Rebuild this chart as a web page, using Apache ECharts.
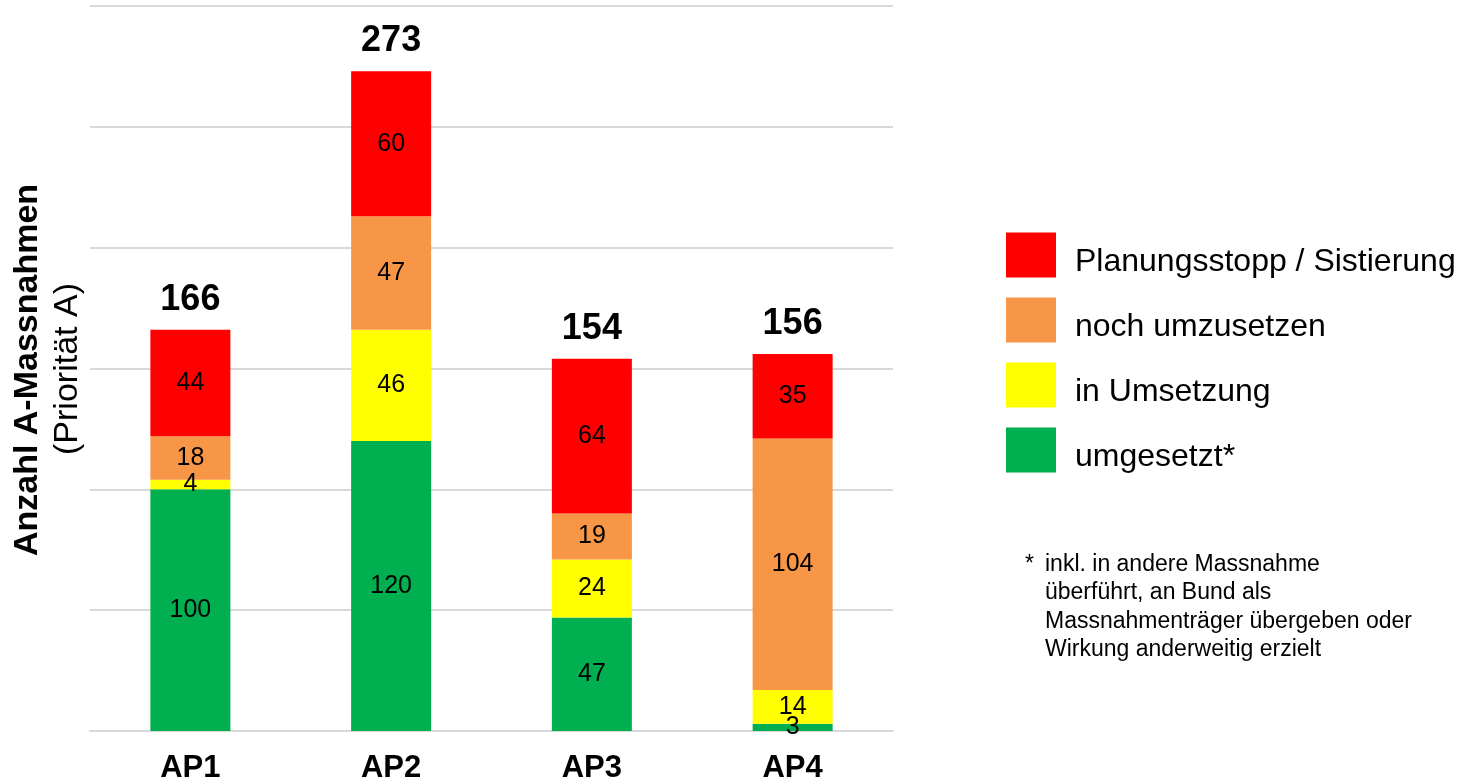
<!DOCTYPE html>
<html>
<head>
<meta charset="utf-8">
<script src="https://cdn.jsdelivr.net/npm/echarts@6/dist/echarts.min.js"></script>
<style>
html,body{margin:0;padding:0;background:#fff;}
#chart{width:1467px;height:784px;}
</style>
</head>
<body>
<div id="chart"></div>
<script>
const categories = ['AP1', 'AP2', 'AP3', 'AP4'];
const umgesetzt = [100, 120, 47, 3];
const inUmsetzung = [4, 46, 24, 14];
const nochUmzusetzen = [18, 47, 19, 104];
const planungsstopp = [44, 60, 64, 35];
const seriesNames = ['umgesetzt*', 'in Umsetzung', 'noch umzusetzen', 'Planungsstopp / Sistierung'];
const seriesColors = ['#00B050', '#FFFF00', '#F79646', '#FF0000'];
const yTicks = [0, 50, 100, 150, 200, 250, 300];
const yAxisTitle = 'Anzahl A-Massnahmen';
const yAxisSubtitle = '(Priorität A)';
const footnoteStar = '*';
const footnoteLines = ['inkl. in andere Massnahme', 'überführt, an Bund als', 'Massnahmenträger übergeben oder', 'Wirkung anderweitig erzielt'];

const seriesData = [umgesetzt, inUmsetzung, nochUmzusetzen, planungsstopp];
const totals = categories.map((c, i) => seriesData.reduce((s, arr) => s + arr[i], 0));

const FONT = '"Liberation Sans", Arial, sans-serif';

const chart = echarts.init(document.getElementById('chart'), null, {renderer: 'canvas'});

const series = seriesData.map((arr, k) => ({
  name: seriesNames[k],
  type: 'bar',
  stack: 'total',
  barWidth: 80,
  data: arr,
  itemStyle: {color: seriesColors[k]},
  label: {
    show: true,
    position: 'inside',
    color: '#000',
    fontFamily: FONT,
    fontSize: 25
  },
  emphasis: {disabled: true}
}));

series.push({
  name: 'Total',
  type: 'bar',
  barWidth: 80,
  barGap: '-100%',
  data: totals,
  z: 0,
  itemStyle: {color: 'rgba(0,0,0,0)'},
  label: {
    show: true,
    position: 'top',
    distance: 12,
    color: '#000',
    fontFamily: FONT,
    fontWeight: 'bold',
    fontSize: 36
  },
  emphasis: {disabled: true}
});

const option = {
  backgroundColor: '#fff',
  animation: false,
  grid: {left: 90, right: 574, top: 6, bottom: 52, containLabel: false},
  xAxis: {
    type: 'category',
    data: categories,
    axisLine: {show: true, lineStyle: {color: '#d9d9d9', width: 2}},
    axisTick: {show: false},
    axisLabel: {
      color: '#000',
      fontFamily: FONT,
      fontWeight: 'bold',
      fontSize: 31,
      margin: 22
    }
  },
  yAxis: {
    type: 'value',
    min: yTicks[0],
    max: yTicks[yTicks.length - 1],
    interval: yTicks[1] - yTicks[0],
    axisLine: {show: false},
    axisTick: {show: false},
    axisLabel: {show: false},
    splitLine: {show: true, lineStyle: {color: '#d9d9d9', width: 2}}
  },
  legend: {
    orient: 'vertical',
    left: 1006,
    top: 232,
    padding: 0,
    itemWidth: 50,
    itemHeight: 45,
    itemGap: 19,
    icon: 'rect',
    data: seriesNames.slice().reverse(),
    selectedMode: false,
    formatter: '{t|{name}}',
    textStyle: {
      color: '#000',
      fontFamily: FONT,
      fontSize: 32,
      rich: {
        t: {
          color: '#000',
          fontFamily: FONT,
          fontSize: 32,
          lineHeight: 31,
          padding: [14, 0, 0, 14]
        }
      }
    }
  },
  graphic: [
    {
      type: 'text',
      x: 28,
      y: 370,
      rotation: Math.PI / 2,
      style: {
        text: yAxisTitle,
        x: 0, y: 0,
        align: 'center',
        verticalAlign: 'middle',
        fill: '#000',
        font: 'bold 34px ' + FONT
      }
    },
    {
      type: 'text',
      x: 68,
      y: 369,
      rotation: Math.PI / 2,
      style: {
        text: yAxisSubtitle,
        x: 0, y: 0,
        align: 'center',
        verticalAlign: 'middle',
        fill: '#000',
        font: '34px ' + FONT
      }
    },
    {
      type: 'text',
      left: 1025,
      top: 550,
      style: {
        text: footnoteStar,
        fill: '#000',
        font: '23px ' + FONT,
        lineHeight: 28.5
      }
    },
    {
      type: 'text',
      left: 1045,
      top: 550,
      style: {
        text: footnoteLines.join('\n'),
        fill: '#000',
        font: '23px ' + FONT,
        lineHeight: 28.5
      }
    }
  ],
  series: series
};

chart.setOption(option);
</script>
</body>
</html>
